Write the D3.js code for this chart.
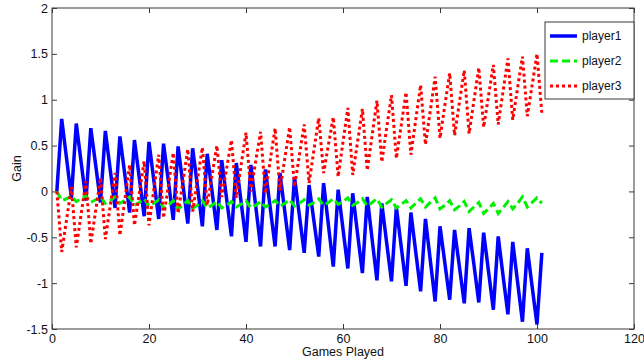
<!DOCTYPE html>
<html>
<head>
<meta charset="utf-8">
<script src="https://cdn.jsdelivr.net/npm/d3@7"></script>
<style>
  body { margin: 0; background: #fff; }
  text { font-family: "Liberation Sans", Arial, sans-serif; }
</style>
</head>
<body>
<script>
// Games 1..101, gain of each player after each game
var games = d3.range(1, 102);

var player1 = [
  0, 0.79, 0.36, -0.07, 0.74, 0.32, -0.10, 0.69, 0.29, -0.12,
  0.66, 0.24, -0.18, 0.60, 0.19, -0.23, 0.56, 0.15, -0.27, 0.54,
  0.12, -0.30, 0.52, 0.11, -0.31, 0.49, 0.07, -0.35, 0.47, 0.05,
  -0.38, 0.41, 0.00, -0.42, 0.34, -0.08, -0.49, 0.31, -0.12, -0.55,
  0.29, -0.16, -0.60, 0.24, -0.18, -0.60, 0.20, -0.22, -0.64, 0.16,
  -0.26, -0.67, 0.07, -0.32, -0.71, 0.09, -0.37, -0.82, 0.02, -0.41,
  -0.84, -0.02, -0.46, -0.89, -0.06, -0.52, -0.97, -0.13, -0.56, -0.98,
  -0.17, -0.60, -1.03, -0.23, -0.66, -1.09, -0.30, -0.75, -1.20, -0.38,
  -0.78, -1.18, -0.42, -0.82, -1.22, -0.40, -0.80, -1.21, -0.45, -0.87,
  -1.29, -0.49, -0.92, -1.34, -0.55, -0.99, -1.42, -0.62, -1.04, -1.45,
  -0.67
];

var player2 = [
  0, -0.10, -0.08, -0.05, -0.11, -0.08, -0.05, -0.12, -0.09, -0.06,
  -0.13, -0.10, -0.06, -0.13, -0.10, -0.06, -0.15, -0.12, -0.08, -0.16,
  -0.13, -0.09, -0.18, -0.15, -0.10, -0.19, -0.15, -0.10, -0.18, -0.15,
  -0.10, -0.18, -0.15, -0.11, -0.18, -0.15, -0.11, -0.17, -0.14, -0.10,
  -0.18, -0.15, -0.11, -0.17, -0.14, -0.10, -0.16, -0.13, -0.09, -0.16,
  -0.13, -0.09, -0.15, -0.12, -0.08, -0.15, -0.12, -0.08, -0.14, -0.11,
  -0.07, -0.15, -0.12, -0.08, -0.16, -0.12, -0.08, -0.17, -0.13, -0.09,
  -0.18, -0.14, -0.10, -0.18, -0.13, -0.08, -0.17, -0.12, -0.07, -0.19,
  -0.15, -0.10, -0.20, -0.16, -0.11, -0.22, -0.17, -0.12, -0.24, -0.19,
  -0.13, -0.24, -0.18, -0.11, -0.19, -0.13, -0.06, -0.17, -0.12, -0.07,
  -0.13
];

var player3 = [
  0, -0.66, -0.31, 0.05, -0.61, -0.25, 0.11, -0.57, -0.21, 0.15,
  -0.52, -0.16, 0.20, -0.48, -0.10, 0.29, -0.37, -0.02, 0.33, -0.37,
  0.02, 0.40, -0.29, 0.07, 0.42, -0.24, 0.11, 0.46, -0.22, 0.13,
  0.48, -0.15, 0.18, 0.50, -0.06, 0.25, 0.56, -0.07, 0.29, 0.64,
  0.00, 0.33, 0.65, -0.02, 0.34, 0.69, 0.01, 0.36, 0.70, 0.05,
  0.39, 0.73, 0.09, 0.45, 0.80, 0.20, 0.51, 0.81, 0.16, 0.54,
  0.91, 0.18, 0.54, 0.90, 0.23, 0.61, 0.99, 0.32, 0.69, 1.05,
  0.36, 0.72, 1.08, 0.40, 0.78, 1.16, 0.51, 0.88, 1.25, 0.58,
  0.94, 1.29, 0.61, 0.97, 1.32, 0.63, 0.99, 1.35, 0.70, 1.04,
  1.38, 0.73, 1.09, 1.45, 0.78, 1.13, 1.47, 0.82, 1.16, 1.50,
  0.85
];

var seriesNames = ["player1", "player2", "player3"];
var xTicks = [0, 20, 40, 60, 80, 100, 120];
var yTicks = [-1.5, -1, -0.5, 0, 0.5, 1, 1.5, 2];
var yTickLabels = ["-1.5", "-1", "-0.5", "0", "0.5", "1", "1.5", "2"];

// Plot box
var margin = { top: 8, right: 10, bottom: 35, left: 52 },
    width = 644 - margin.left - margin.right,
    height = 364 - margin.top - margin.bottom;

var svg = d3.select("body").append("svg")
    .attr("width", 644)
    .attr("height", 364);

var g = svg.append("g")
    .attr("transform", "translate(" + margin.left + "," + margin.top + ")");

var xScale = d3.scaleLinear().domain([0, 120]).range([0, width]);
var yScale = d3.scaleLinear().domain([-1.5, 2]).range([height, 0]);

var axisColor = "#3a3a3a";

// frame
g.append("rect")
    .attr("width", width)
    .attr("height", height)
    .attr("fill", "none")
    .attr("stroke", axisColor)
    .attr("stroke-width", 1);

function styleAxis(sel) {
    sel.select(".domain").remove();
    sel.selectAll(".tick line").attr("stroke", axisColor);
    sel.selectAll("text").attr("fill", "#111").attr("font-size", "12.5px")
        .attr("font-family", "Liberation Sans, Arial, sans-serif");
}

// bottom + top x axes
g.append("g")
    .attr("transform", "translate(0," + height + ")")
    .call(d3.axisBottom(xScale).tickValues(xTicks).tickSize(-5).tickPadding(5))
    .call(styleAxis);
g.append("g")
    .call(d3.axisTop(xScale).tickValues(xTicks).tickSize(-5).tickFormat(""))
    .call(styleAxis);

// left + right y axes
g.append("g")
    .call(d3.axisLeft(yScale).tickValues(yTicks).tickSize(-5).tickPadding(4)
        .tickFormat((d, i) => yTickLabels[i]))
    .call(styleAxis);
g.append("g")
    .attr("transform", "translate(" + width + ",0)")
    .call(d3.axisRight(yScale).tickValues(yTicks).tickSize(-5).tickFormat(""))
    .call(styleAxis);

// axis labels
svg.append("text")
    .attr("text-anchor", "middle")
    .attr("font-size", "12.5px")
    .attr("x", margin.left + width / 2)
    .attr("y", 356)
    .attr("fill", "#111")
    .text("Games Played");

svg.append("text")
    .attr("text-anchor", "middle")
    .attr("font-size", "12.5px")
    .attr("transform", "translate(21," + (margin.top + height / 2) + ") rotate(-90)")
    .attr("fill", "#111")
    .text("Gain");

// lines
var styles = [
    { color: "#0000ff", dash: null, w: 3.5 },
    { color: "#00f000", dash: "8,4", w: 3 },
    { color: "#ff0000", dash: "3,3", w: 3 }
];
var allSeries = [player1, player2, player3];

var line = d3.line()
    .x((d, i) => xScale(games[i]))
    .y(d => yScale(d));

allSeries.forEach(function (vals, k) {
    g.append("path")
        .datum(vals)
        .attr("d", line)
        .attr("fill", "none")
        .attr("stroke", styles[k].color)
        .attr("stroke-width", styles[k].w)
        .attr("stroke-dasharray", styles[k].dash);
});

// legend
var legend = svg.append("g").attr("transform", "translate(545,22)");
legend.append("rect")
    .attr("width", 89)
    .attr("height", 77)
    .attr("fill", "#fff")
    .attr("stroke", axisColor);

seriesNames.forEach(function (name, k) {
    var yy = 14 + k * 25;
    legend.append("line")
        .attr("x1", 5).attr("x2", 32)
        .attr("y1", yy).attr("y2", yy)
        .attr("stroke", styles[k].color)
        .attr("stroke-width", styles[k].w)
        .attr("stroke-dasharray", styles[k].dash);
    legend.append("text")
        .attr("x", 37)
        .attr("y", yy + 4)
        .attr("font-size", "12px")
        .attr("fill", "#111")
        .text(name);
});
</script>
</body>
</html>
